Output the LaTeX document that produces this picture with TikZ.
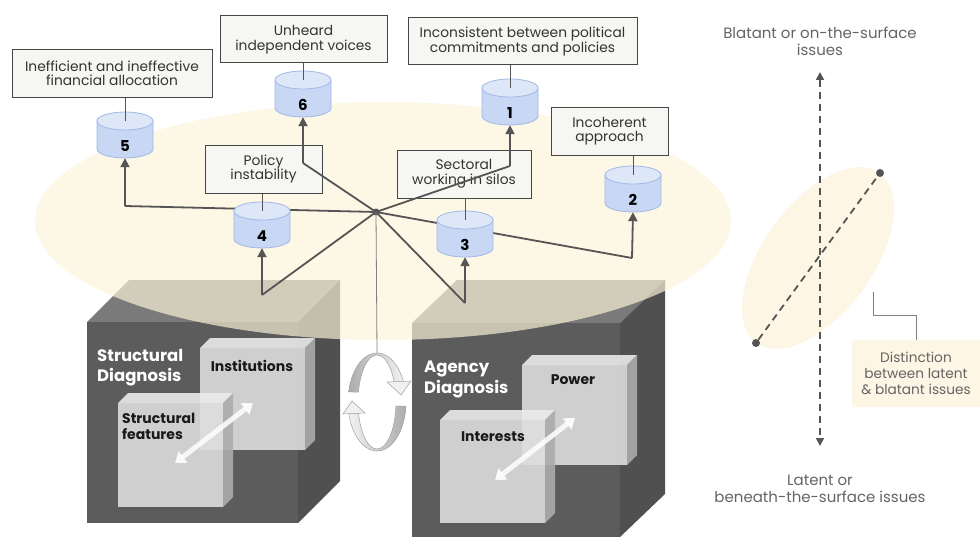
\documentclass[tikz,border=0pt]{standalone}
\usepackage{fontspec}
\setmainfont{Poppins}
\usetikzlibrary{arrows.meta,calc}

\definecolor{cream}{RGB}{252,243,218}
\definecolor{creamsolid}{RGB}{253,246,228}
\definecolor{linegray}{RGB}{85,85,85}
\definecolor{boxfill}{RGB}{246,246,243}
\definecolor{boxline}{RGB}{70,70,70}
\definecolor{cylbody}{RGB}{200,215,244}
\definecolor{cyltop}{RGB}{222,231,248}
\definecolor{cylline}{RGB}{160,185,232}
\definecolor{cubetop}{RGB}{122,122,122}
\definecolor{cubefront}{RGB}{92,92,92}
\definecolor{cubeside}{RGB}{80,80,80}
\definecolor{slab}{RGB}{222,222,222}
\definecolor{slabtop}{RGB}{234,234,234}
\definecolor{slabside}{RGB}{172,172,172}
\definecolor{txtgray}{RGB}{100,100,100}

% a light slab (front rectangle with a thin top and right face)
\newcommand{\slabbox}[4]{%
  \fill[slabtop,opacity=.9] (#1,#2) -- (#1+10,#2-10) -- (#3+10,#2-10) -- (#3,#2) -- cycle;
  \fill[slabside,opacity=.9] (#3,#2) -- (#3+10,#2-10) -- (#3+10,#4-10) -- (#3,#4) -- cycle;
  \fill[slab,opacity=.89] (#1,#2) rectangle (#3,#4);
}

% a drum: name, x, y of centre
\newcommand{\drum}[3]{%
  \node[minimum width=56pt, minimum height=46pt, inner sep=0pt] (#1) at (#2,#3) {};
  \filldraw[fill=cylbody, draw=cylline, line width=0.8pt]
    (#2-28,#3-14) -- (#2-28,#3+14) arc[start angle=180, end angle=0, x radius=28, y radius=9]
    -- (#2+28,#3-14) -- cycle;
  \filldraw[fill=cyltop, draw=cylline, line width=0.8pt] (#2,#3-14) ellipse [x radius=28, y radius=9];
}

\begin{document}
\begin{tikzpicture}[x=1pt,y=-1pt,
  issue/.style={draw=boxline, line width=1pt, fill=boxfill, text=black!80,
    align=center, font=\fontsize{13.8}{14.5}\selectfont, inner sep=1pt},
  num/.style={font=\fontsize{15}{15}\selectfont\bfseries, text=black},
  link/.style={draw=linegray, line width=1.8pt, line join=round},
  arr/.style={link, -{Triangle[length=9pt,width=9pt]}},
  tag/.style={draw=linegray, line width=0.9pt},
  cubelabel/.style={text=white, font=\fontsize{16.5}{20.5}\selectfont\bfseries, align=left, inner sep=0pt},
  slablabel/.style={text=black!90, font=\fontsize{14}{16}\selectfont\bfseries, align=left, inner sep=0pt},
  sidetext/.style={text=txtgray, font=\fontsize{15}{17}\selectfont, align=center},
  axisdash/.style={draw=linegray, line width=1.8pt, dash pattern=on 7pt off 5pt},
  dotnode/.style={circle, fill=linegray, inner sep=0pt, minimum size=8pt},
  twoway/.style={draw=white, line width=5pt, opacity=.85,
    {Triangle[width=14pt,length=10pt]}-{Triangle[width=14pt,length=10pt]}},
  ring/.style={draw=gray!75, line width=0.5pt}
]
\useasboundingbox (0,0) rectangle (980,543);

% ---------- structural diagnosis block ----------
\fill[cubetop] (87,322) -- (129,280) -- (340,280) -- (298,322) -- cycle;
\fill[cubeside] (298,322) -- (340,280) -- (340,481) -- (298,523) -- cycle;
\fill[cubefront] (87,322) rectangle (298,523);
\slabbox{200}{348}{305}{450}
\slabbox{118}{403}{223}{507}
\coordinate (sa) at (175,463);
\coordinate (sb) at (253,403);
\draw[twoway] (sa) -- (sb);
\node[cubelabel, anchor=north west] (sdiag) at (97,349) {Structural\\Diagnosis};
\node[slablabel] (inst) at (252,366) {Institutions};
\node[slablabel, anchor=north west] (sfeat) at (122,413) {Structural\\features};

% ---------- agency diagnosis block ----------
\fill[cubetop] (412,323) -- (457,280) -- (665,280) -- (620,323) -- cycle;
\fill[cubeside] (620,323) -- (665,280) -- (665,494) -- (620,537) -- cycle;
\fill[cubefront] (412,323) rectangle (620,537);
\slabbox{522}{365}{627}{465}
\slabbox{440}{420}{545}{523}
\coordinate (aa) at (495,480);
\coordinate (ab) at (575,418);
\draw[twoway] (aa) -- (ab);
\node[cubelabel, anchor=north west] (adiag) at (424,361) {Agency\\Diagnosis};
\node[slablabel] (power) at (573,380) {Power};
\node[slablabel] (inter) at (493,437) {Interests};

% ---------- issue field ----------
\fill[cream, opacity=.68] (383,221) ellipse [x radius=348, y radius=119];

% issue boxes
\node[issue, minimum width=200pt, minimum height=47pt] (b5) at (112,73.5) {Inefficient and ineffective\\financial allocation};
\node[issue, minimum width=167pt, minimum height=47pt] (b6) at (303.5,39.5) {Unheard\\independent voices};
\node[issue, minimum width=117pt, minimum height=48pt] (b4) at (263.5,169) {Policy\\instability};
\node[issue, minimum width=229pt, minimum height=47pt] (b1) at (522.5,41.5) {Inconsistent between political\\commitments and policies};
\node[issue, minimum width=117pt, minimum height=48pt] (b2) at (609.5,131) {Incoherent\\approach};
\node[issue, minimum width=134pt, minimum height=48pt] (b3) at (464,174) {Sectoral\\working in silos};

% hub and its spokes
\node[circle, fill=linegray, inner sep=0pt, minimum size=7pt] (hub) at (376,212) {};
\coordinate (k5) at (125,206);
\coordinate (k6) at (303,163);
\coordinate (k1) at (510,166);
\coordinate (k2) at (632,258);
\coordinate (k3) at (465,303);
\coordinate (k4) at (262,295);
\coordinate (cyctop) at (377,353);

\draw[link] (hub.center) -- (k5);
\draw[link] (hub.center) -- (k6);
\draw[link] (hub.center) -- (k1);
\draw[link] (hub.center) -- (k2);
\draw[link] (hub.center) -- (k3);
\draw[link] (hub.center) -- (k4);
\draw[draw=gray, line width=0.8pt] (hub.center) -- (cyctop);

% drums
\drum{c5}{125}{135}
\drum{c6}{303}{94}
\drum{c4}{262}{225}
\drum{c1}{510}{102}
\drum{c2}{633}{189}
\drum{c3}{465}{234}
\node[num] (n5) at (125,146) {5};
\node[num] (n6) at (303,105) {6};
\node[num] (n4) at (262,236) {4};
\node[num] (n1) at (510,113) {1};
\node[num] (n2) at (633,200) {2};
\node[num] (n3) at (465,245) {3};

% arrows into the drums
\draw[arr] (k5) -- (c5.south);
\draw[arr] (k6) -- (c6.south);
\draw[arr] (k1) -- (c1.south);
\draw[arr] (k2) -- (c2.south);
\draw[arr] (k3) -- (c3.south);
\draw[arr] (k4) -- (c4.south);

% box tags
\foreach \i in {5,6,4,1,2,3}
  \draw[tag] (c\i.north |- b\i.south) -- ([yshift=-9pt]c\i.north);

% ---------- cycle icon ----------
\coordinate (cyc) at (377,402);
\shadedraw[ring, left color=gray!65, right color=gray!10]
  ($(cyc)+(192:29 and 49)$) arc[start angle=192, end angle=336, x radius=29, y radius=49]
  -- ($(cyc)+(336:19 and 47)$) arc[start angle=336, end angle=192, x radius=19, y radius=47] -- cycle;
\filldraw[ring, fill=gray!12] (387,382) -- (411,381) -- (401,395) -- cycle;
\shadedraw[ring, left color=gray!10, right color=gray!65]
  ($(cyc)+(5:29 and 49)$) arc[start angle=5, end angle=167, x radius=29, y radius=49]
  -- ($(cyc)+(167:19 and 47)$) arc[start angle=167, end angle=5, x radius=19, y radius=47] -- cycle;
\filldraw[ring, fill=gray!12] (343,414) -- (365,413) -- (352,401) -- cycle;

% ---------- latent / blatant axis ----------
\node[sidetext] (blatant) at (820,41) {Blatant or on-the-surface\\issues};
\node[sidetext] (latent) at (820,489) {Latent or\\beneath-the-surface issues};
\fill[creamsolid, rotate around={54:(818,258)}] (818,258) ellipse [x radius=105, y radius=55];
\coordinate (axtop) at (820,72);
\coordinate (axbot) at (820,446);
\draw[axisdash, {Triangle[length=8pt,width=8pt]}-{Triangle[length=8pt,width=8pt]}] (axtop) -- (axbot);
\node[dotnode] (lo) at (756,343) {};
\node[dotnode] (hi) at (880,173) {};
\draw[axisdash] (lo) -- (hi);

\node[fill=creamsolid, text=txtgray, font=\fontsize{13.7}{16}\selectfont, align=center,
  minimum width=128pt, minimum height=67pt, inner sep=0pt] (dist) at (916,373.5)
  {Distinction\\between latent\\\& blatant issues};
\coordinate (edge) at (873,292);
\draw[draw=gray, line width=0.8pt] (edge) -- (873,315) -| (dist.north);

\end{tikzpicture}
\end{document}
